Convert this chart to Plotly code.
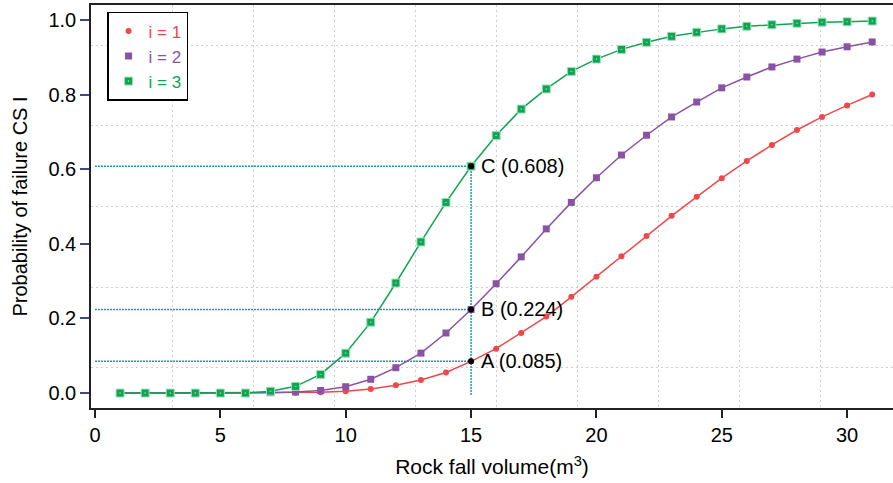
import plotly.graph_objects as go

# ---- data ----
volume = list(range(1, 32))
p_i1 = [0, 0, 0, 0, 0, 0, 0, 0.001, 0.002, 0.005, 0.011, 0.021, 0.035, 0.055, 0.085,
        0.119, 0.161, 0.205, 0.258, 0.312, 0.367, 0.421, 0.475, 0.526, 0.576, 0.622,
        0.665, 0.705, 0.740, 0.771, 0.800]
p_i2 = [0, 0, 0, 0, 0, 0, 0.001, 0.003, 0.007, 0.017, 0.037, 0.068, 0.107, 0.161, 0.224,
        0.293, 0.365, 0.440, 0.511, 0.577, 0.638, 0.691, 0.740, 0.780, 0.818, 0.847,
        0.874, 0.895, 0.914, 0.928, 0.941]
p_i3 = [0, 0, 0, 0, 0, 0, 0.005, 0.018, 0.050, 0.107, 0.190, 0.295, 0.405, 0.511, 0.608,
        0.690, 0.761, 0.815, 0.862, 0.895, 0.921, 0.940, 0.956, 0.967, 0.976, 0.983,
        0.987, 0.991, 0.994, 0.995, 0.997]
series_names = ["i = 1", "i = 2", "i = 3"]

point_labels = ["A", "B", "C"]
point_x = [15, 15, 15]
point_y = [0.085, 0.224, 0.608]

x_ticks = [0, 5, 10, 15, 20, 25, 30]
y_ticks = [0.0, 0.2, 0.4, 0.6, 0.8, 1.0]

# ---- style ----
FONT = "Liberation Sans, Arial, Helvetica, sans-serif"
colors = ["#f0484a", "#8a52a5", "#10a352"]
symbols = ["circle", "square", "square"]
msizes = [6, 7, 7]
GUIDE = "#1a9ea5"

fig = go.Figure()

# background grid (independent square grid, as in the original)
fig.add_trace(go.Scatter(x=[None], y=[None], xaxis="x2", yaxis="y2",
                         showlegend=False, hoverinfo="skip"))

# guide lines
gx, gy = [], []
for px, py in zip(point_x, point_y):
    gx += [0, px, None]
    gy += [py, py, None]
gx += [point_x[-1], point_x[-1], None]
gy += [-0.005, max(point_y), None]
fig.add_trace(go.Scatter(x=gx, y=gy, mode="lines", showlegend=False,
                         line=dict(color=GUIDE, width=1.5, dash="2px,1px"),
                         hoverinfo="skip"))

series = [p_i1, p_i2, p_i3]
for name, ys, c, s, ms in zip(series_names, series, colors, symbols, msizes):
    fig.add_trace(go.Scatter(x=volume, y=ys, mode="lines", showlegend=False,
                             line=dict(color=c, width=1.5)))
for name, ys, c, s, ms in zip(series_names, series, colors, symbols, msizes):
    mk = dict(color=c, symbol=s, size=ms)
    if name == "i = 3":
        mk = dict(color=c, symbol="square-dot", size=8,
                  line=dict(color="#9be3b8", width=1))
    fig.add_trace(go.Scatter(x=volume, y=ys, mode="markers",
                             name=f"<span style='color:{c}'>{name}</span>",
                             marker=mk))

fig.add_trace(go.Scatter(x=point_x, y=point_y, mode="markers", showlegend=False,
                         marker=dict(color="black", size=6, symbol="circle")))

for lab, px, py in zip(point_labels, point_x, point_y):
    fig.add_annotation(x=px, y=py, text=f"{lab} ({py:.3f})", showarrow=False,
                       xanchor="left", yanchor="middle", xshift=8,
                       font=dict(family=FONT, size=20, color="black"))

fig.update_layout(
    width=893, height=483,
    margin=dict(l=91, r=0, t=5, b=75, autoexpand=False),
    paper_bgcolor="white", plot_bgcolor="white",
    font=dict(family=FONT, size=20, color="black"),
    legend=dict(x=0.02, y=0.983, xanchor="left", yanchor="top",
                bgcolor="white", bordercolor="black", borderwidth=1.5,
                font=dict(family=FONT, size=17), itemwidth=30,
                tracegroupgap=0),
    xaxis=dict(range=[-0.16, 31.83], tickvals=x_ticks, showgrid=False,
               zeroline=False, showline=True, linecolor="#222", linewidth=1.5,
               mirror=True, ticks="outside", ticklen=8, tickcolor="#222",
               tickwidth=1.5, automargin=False,
               title=dict(text="Rock fall volume(m<sup>3</sup>)",
                          font=dict(size=21))),
    yaxis=dict(range=[-0.040, 1.040], tickvals=y_ticks, tickformat=".1f",
               showgrid=False, zeroline=False, showline=True, linecolor="#222",
               linewidth=1.5, ticks="outside", ticklen=9, tickcolor="#3b4a8c",
               tickwidth=1.5, automargin=False,
               title=dict(text="Probability of failure CS I",
                          font=dict(size=20))),
    xaxis2=dict(overlaying="x", anchor="y2", range=[0, 9.889], tick0=0, dtick=1,
                showgrid=True, griddash="2px,3px", gridcolor="#cfcfcf", gridwidth=1.2,
                showticklabels=False, ticks="", zeroline=False, showline=False,
                automargin=False),
    yaxis2=dict(overlaying="y", anchor="x2", range=[0, 5], tick0=0.5, dtick=1,
                showgrid=True, griddash="2px,3px", gridcolor="#cfcfcf", gridwidth=1.2,
                showticklabels=False, ticks="", zeroline=False, showline=False,
                automargin=False),
)

fig.write_html("out.html", config={"displayModeBar": False},
               post_script="document.body.style.margin='0px';document.body.style.overflow='hidden';")
